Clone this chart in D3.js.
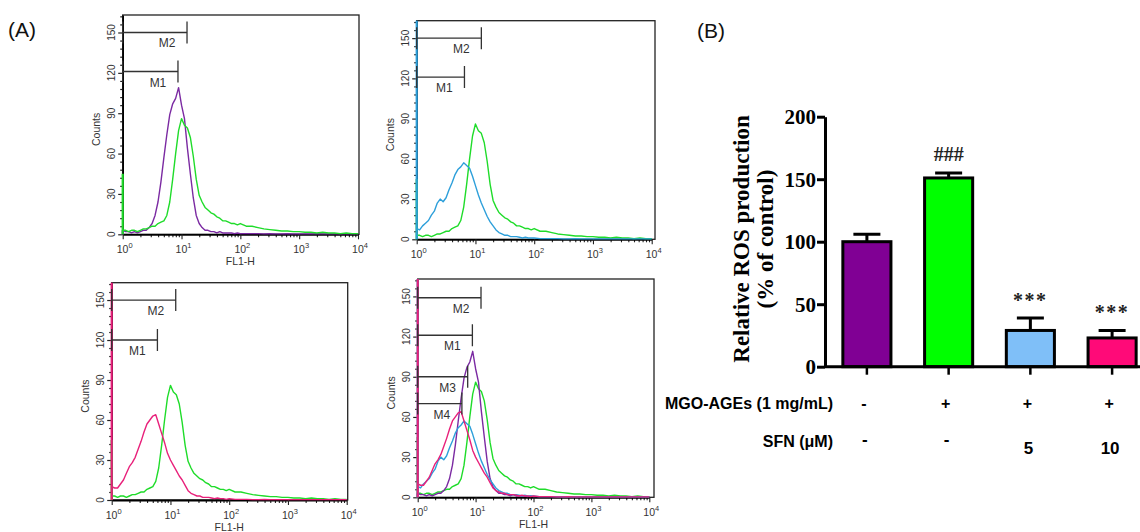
<!DOCTYPE html>
<html>
<head>
<meta charset="utf-8">
<script src="https://cdn.jsdelivr.net/npm/d3@7"></script>
<style>
  body { margin: 0; background: #fff; }
  svg { display: block; }
</style>
</head>
<body>
<div id="chart"></div>
<script>
// ---- data ----
// histogram channels, as decade exponents of FL1-H
const logGrid = [0, 0.05, 0.1, 0.15, 0.2, 0.25, 0.3, 0.35, 0.4, 0.45,
  0.5, 0.55, 0.6, 0.65, 0.7, 0.75, 0.8, 0.85, 0.9, 0.95,
  1.0, 1.05, 1.1, 1.15, 1.2, 1.25, 1.3, 1.35, 1.4, 1.45,
  1.5, 1.55, 1.6, 1.65, 1.7, 1.75, 1.8, 1.85, 1.9, 1.95,
  2.0, 2.1, 2.2, 2.3, 2.4, 2.5, 2.6, 2.7, 2.8, 2.9,
  3.0, 3.1, 3.2, 3.3, 3.4, 3.5, 3.6, 3.7, 3.8, 3.9, 4.0];

const controlCounts = [3, 2, 2, 1, 2, 1, 2, 3, 3, 5,
  8, 14, 24, 39, 57, 74, 89, 97, 101, 109,
  96, 86, 64, 45, 27, 14, 8, 5, 3, 3,
  2, 2, 1, 2, 1, 1, 1, 1, 0.5, 1,
  0.5, 0.5, 0.5, 0.5, 0.3, 0.5, 0.3, 0.3, 0.5, 0.3,
  0.3, 0.3, 0.3, 0.5, 0.3, 0.3, 0.3, 0.3, 0.3, 0.3, 0.3];

const mgoCounts = [3, 3, 2, 3, 3, 2, 3, 4, 4, 5,
  6, 6, 8, 9, 10, 14, 24, 41, 60, 77,
  86, 81, 79, 72, 58, 41, 29, 24, 20, 18,
  16, 15, 13, 12, 10, 10, 9, 8, 8, 7,
  8, 6, 6, 5, 4, 3.5, 3, 2.5, 2.5, 2,
  2, 1.5, 1.5, 1, 1.5, 1, 1, 0.5, 1, 0.5, 0.5];

const sfn5Counts = [8, 7, 10, 12, 14, 18, 21, 27, 30, 28,
  31, 37, 42, 48, 52, 54, 57, 55, 53, 47,
  40, 33, 27, 22, 17, 13, 10, 7, 5, 4,
  3, 3, 2, 2, 2, 1.5, 1, 1.5, 1, 1,
  1, 0.5, 0.5, 0.5, 0.5, 0.3, 0.3, 0.5, 0.3, 0.3,
  0.3, 0.3, 0.3, 0.3, 0.3, 0.3, 0.3, 0.3, 0.3, 0.3, 0.3];

const sfn10Counts = [10, 9, 9, 12, 15, 20, 25, 28, 32, 38,
  44, 51, 57, 60, 63, 64, 57, 50, 43, 35,
  30, 26, 22, 18, 15, 11, 7, 5, 4, 3,
  3, 2, 2, 2, 1.5, 1, 1.5, 1, 1, 0.5,
  1, 0.5, 0.5, 0.5, 0.3, 0.3, 0.5, 0.3, 0.3, 0.3,
  0.3, 0.3, 0.3, 0.3, 0.3, 0.3, 0.3, 0.3, 0.3, 0.3, 0.3];

// counts piled in the first channel (drawn on the 10^0 line)
const firstChannel = { control: 3, mgo: 45, sfn5: 163, sfn10: 163 };

// marker gates: [name, count level, right end on FL1-H]
const gatesA1 = [["M2", 150, 12.4], ["M1", 121, 8.7]];
const gatesA2 = [["M2", 150, 12.6], ["M1", 121, 6.5]];
const gatesA3 = [["M2", 150, 12.3], ["M1", 120, 6.0]];
const gatesA4 = [["M2", 149, 12.4], ["M1", 121, 8.8], ["M3", 90, 7.3], ["M4", 70, 5.8]];

const countTicks = [0, 30, 60, 90, 120, 150];
const decadeTicks = [1, 10, 100, 1000, 10000];

// panel B
const groups = ["Control", "MGO-AGEs", "SFN 5", "SFN 10"];
const rosValues = [100, 151, 29, 23];
const rosErrors = [6, 4, 10, 6];
const rosMarks = ["", "###", "***", "***"];
const mgoRow = ["-", "+", "+", "+"];
const sfnRow = ["-", "-", "5", "10"];
const rosTicks = [0, 50, 100, 150, 200];

// ---- drawing ----
const W = 1140, H = 532;
const svg = d3.select("#chart").append("svg").attr("width", W).attr("height", H);

const colors = { control: "#7b2aa2", mgo: "#1fdc2a", sfn5: "#2d9fda", sfn10: "#e8207a" };
const countsBy = { control: controlCounts, mgo: mgoCounts, sfn5: sfn5Counts, sfn10: sfn10Counts };
const sans = "'Liberation Sans', Arial, sans-serif";
const serif = "'Liberation Serif', 'Times New Roman', serif";

svg.append("text").attr("x", 8).attr("y", 37).attr("font-family", sans)
  .attr("font-size", 21).attr("fill", "#111").text("(A)");
svg.append("text").attr("x", 697).attr("y", 38).attr("font-family", sans)
  .attr("font-size", 21).attr("fill", "#111").text("(B)");

const panels = [
  { left: 122.7, xEnd: 358, right: 359, top: 15, bottom: 234.3, samples: ["control", "mgo"], gates: gatesA1, title: true },
  { left: 416.7, xEnd: 651.7, right: 655, top: 20.7, bottom: 239.3, samples: ["mgo", "sfn5"], gates: gatesA2, title: false },
  { left: 111.7, xEnd: 346.7, right: 347.7, top: 282.7, bottom: 500, samples: ["mgo", "sfn10"], gates: gatesA3, title: true },
  { left: 417.7, xEnd: 649.3, right: 654, top: 279, bottom: 497.3, samples: ["mgo", "control", "sfn5", "sfn10"], gates: gatesA4, title: true }
];

function drawHistogram(p) {
  const g = svg.append("g");
  const x = d3.scaleLog().domain([1, 1e4]).range([p.left, p.xEnd]);
  const y = d3.scaleLinear().domain([0, 163]).range([p.bottom, p.top]);

  // frame
  g.append("rect")
    .attr("x", p.left).attr("y", p.top)
    .attr("width", p.right - p.left).attr("height", p.bottom - p.top)
    .attr("fill", "none").attr("stroke", "#222").attr("stroke-width", 1.3);

  // y axis: majors every 30, small ticks every 6
  const yMinor = d3.range(0, 163, 6).filter(v => v % 30 !== 0);
  g.append("g").attr("transform", `translate(${p.left},0)`)
    .call(d3.axisLeft(y).tickValues(yMinor).tickSize(2.5).tickFormat(""))
    .call(a => a.select(".domain").remove());
  g.append("g").attr("transform", `translate(${p.left},0)`)
    .call(d3.axisLeft(y).tickValues(countTicks).tickSize(4.5).tickFormat("").tickSizeOuter(0))
    .call(a => a.select(".domain").attr("stroke-width", 1.6));
  g.selectAll(".tick line").attr("stroke", "#222").attr("stroke-width", 1.2);

  g.selectAll(".ylab").data(countTicks).enter().append("text")
    .attr("transform", d => `translate(${p.left - 8},${y(d)}) rotate(-90)`)
    .attr("text-anchor", "middle").attr("font-family", sans).attr("font-size", 10)
    .attr("fill", "#333").text(d => d);
  g.append("text")
    .attr("transform", `translate(${p.left - 23},${y(78)}) rotate(-90)`)
    .attr("text-anchor", "middle").attr("font-family", sans).attr("font-size", 10.5)
    .attr("fill", "#333").text("Counts");

  // x axis: decades with minor log ticks
  const xMinor = [];
  decadeTicks.slice(0, 4).forEach(d => { for (let k = 2; k < 10; k++) xMinor.push(d * k); });
  const xg = g.append("g").attr("transform", `translate(0,${p.bottom})`);
  xg.append("g").call(d3.axisBottom(x).tickValues(xMinor).tickSize(3).tickFormat(""))
    .call(a => a.select(".domain").remove());
  xg.append("g").call(d3.axisBottom(x).tickValues(decadeTicks).tickSize(5).tickFormat("").tickSizeOuter(0))
    .call(a => a.select(".domain").attr("stroke-width", 1.8));
  xg.selectAll(".tick line").attr("stroke", "#222").attr("stroke-width", 1.1);

  decadeTicks.forEach((d, i) => {
    const t = g.append("text").attr("x", x(d) + 2).attr("y", p.bottom + 19)
      .attr("text-anchor", "middle").attr("font-family", sans).attr("font-size", 10.5).attr("fill", "#333");
    t.append("tspan").text("10");
    t.append("tspan").attr("dy", -5).attr("font-size", 7.5).text(i);
  });
  if (p.title) {
    g.append("text").attr("x", (p.left + p.xEnd) / 2).attr("y", p.bottom + 31)
      .attr("text-anchor", "middle").attr("font-family", sans).attr("font-size", 10.5)
      .attr("fill", "#333").text("FL1-H");
  }

  // histogram traces, then the first-channel piles on top of the axis line
  const line = d3.line().x(d => x(Math.pow(10, d[0]))).y(d => y(d[1]));
  p.samples.forEach(s => {
    const pts = logGrid.map((v, i) => [v, countsBy[s][i]]);
    g.append("path").datum(pts).attr("d", line)
      .attr("fill", "none").attr("stroke", colors[s]).attr("stroke-width", 1.4)
      .attr("stroke-linejoin", "round");
  });
  p.samples.forEach(s => {
    g.append("path").datum([[0, 0], [0, firstChannel[s]]]).attr("d", line)
      .attr("fill", "none").attr("stroke", colors[s]).attr("stroke-width", 2.2);
  });

  // marker gates
  p.gates.forEach(([name, level, end]) => {
    const yy = y(level), x0 = x(1), x1 = x(end);
    g.append("path")
      .attr("d", `M${x0},${yy}H${x1}M${x0},${yy - 11}V${yy + 11}M${x1},${yy - 11}V${yy + 11}`)
      .attr("fill", "none").attr("stroke", "#333").attr("stroke-width", 1.3);
    g.append("text").attr("x", x1 - 20).attr("y", yy + 15)
      .attr("text-anchor", "middle").attr("font-family", sans).attr("font-size", 12)
      .attr("fill", "#333").text(name);
  });
}

panels.forEach(drawHistogram);

// ---- panel B: bar chart ----
const xb = d3.scaleBand().domain(groups).range([825, 1154]).paddingInner(0.375).paddingOuter(0.2);
const yb = d3.scaleLinear().domain([0, 200]).range([366.7, 116.7]);
const gb = svg.append("g");

gb.selectAll(".bar").data(groups).enter().append("rect")
  .attr("x", d => xb(d) + 1.5).attr("width", xb.bandwidth() - 3)
  .attr("y", (d, i) => yb(rosValues[i])).attr("height", (d, i) => yb(0) - yb(rosValues[i]))
  .attr("fill", (d, i) => ["#800094", "#00ff00", "#7fbff8", "#ff0a78"][i])
  .attr("stroke", "#000").attr("stroke-width", 3);

gb.selectAll(".err").data(groups).enter().append("path")
  .attr("d", (d, i) => {
    const cx = xb(d) + xb.bandwidth() / 2;
    const top = yb(rosValues[i] + rosErrors[i]);
    return `M${cx},${yb(rosValues[i])}V${top}M${cx - 13.5},${top}H${cx + 13.5}`;
  })
  .attr("fill", "none").attr("stroke", "#000").attr("stroke-width", 3);

gb.selectAll(".mark").data(groups).enter().append("text")
  .attr("x", d => xb(d) + xb.bandwidth() / 2)
  .attr("y", (d, i) => yb(rosValues[i] + rosErrors[i]) - (rosMarks[i] === "###" ? 12 : 11))
  .attr("text-anchor", "middle").attr("font-family", serif).attr("font-weight", "bold")
  .attr("font-size", 20).attr("letter-spacing", (d, i) => rosMarks[i] === "***" ? 1.5 : 0)
  .attr("fill", "#222").text((d, i) => rosMarks[i]);

gb.append("g").attr("transform", "translate(825,0)")
  .call(d3.axisLeft(yb).tickValues(rosTicks).tickSize(8).tickPadding(1).tickSizeOuter(0))
  .call(a => a.select(".domain").attr("stroke-width", 3))
  .call(a => a.selectAll(".tick line").attr("stroke-width", 3))
  .call(a => a.selectAll(".tick text").attr("font-family", serif).attr("font-weight", "bold")
    .attr("font-size", 21).attr("fill", "#000").attr("dy", "0.34em"));

gb.append("g").attr("transform", `translate(0,${yb(0)})`)
  .call(d3.axisBottom(xb).tickSize(8).tickFormat("").tickSizeOuter(0))
  .call(a => a.select(".domain").attr("d", `M825,0H1140`).attr("stroke-width", 3))
  .call(a => a.selectAll(".tick line").attr("stroke-width", 2.5));

gb.append("text").attr("transform", "translate(749,239) rotate(-90)")
  .attr("text-anchor", "middle").attr("font-family", serif).attr("font-weight", "bold")
  .attr("font-size", 23).attr("fill", "#000").text("Relative ROS production");
gb.append("text").attr("transform", "translate(773,239) rotate(-90)")
  .attr("text-anchor", "middle").attr("font-family", serif).attr("font-weight", "bold")
  .attr("font-size", 23).attr("fill", "#000").text("(% of control)");

// treatment table under the bars
gb.append("text").attr("x", 833).attr("y", 409).attr("text-anchor", "end")
  .attr("font-family", sans).attr("font-weight", "bold").attr("font-size", 16)
  .attr("fill", "#000").text("MGO-AGEs (1 mg/mL)");
gb.append("text").attr("x", 833).attr("y", 447).attr("text-anchor", "end")
  .attr("font-family", sans).attr("font-weight", "bold").attr("font-size", 16)
  .attr("fill", "#000").text("SFN (\u03bcM)");

gb.selectAll(".mgo").data(groups).enter().append("text")
  .attr("x", d => xb(d) + xb.bandwidth() / 2 - 3).attr("y", 409)
  .attr("text-anchor", "middle").attr("font-family", sans).attr("font-weight", "bold")
  .attr("font-size", 16).attr("fill", "#000").text((d, i) => mgoRow[i]);
gb.selectAll(".sfn").data(groups).enter().append("text")
  .attr("x", d => xb(d) + xb.bandwidth() / 2 - 2)
  .attr("y", (d, i) => sfnRow[i] === "-" ? 445 : 454)
  .attr("text-anchor", "middle").attr("font-family", sans).attr("font-weight", "bold")
  .attr("font-size", 17).attr("fill", "#000").text((d, i) => sfnRow[i]);
</script>
</body>
</html>
